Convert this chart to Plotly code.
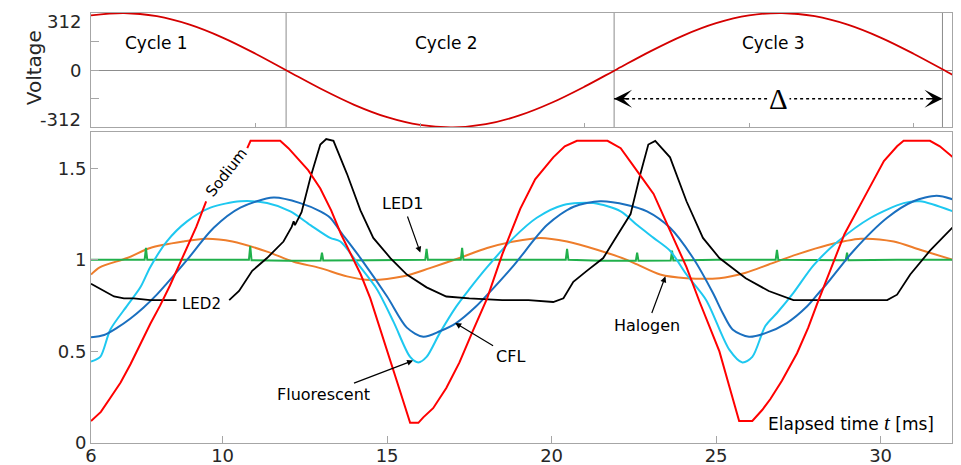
import plotly.graph_objects as go

# ---------------- Top panel: mains voltage ----------------
t_volt = [6, 7, 8, 9, 10, 11, 12, 13, 14, 15, 16, 17, 18, 19, 20, 21, 22, 23, 24,
          25, 26, 27, 28, 29, 30, 31, 32, 32.2]
volt = [298.8, 311.9, 294.6, 248.3, 177.8, 89.9, -6.9, -102.9, -188.9, -256.4, -298.8,
        -311.9, -294.6, -248.3, -177.8, -89.9, 6.9, 102.9, 188.9, 256.4, 298.8, 311.9,
        294.6, 248.3, 177.8, 89.9, -6.9, -26.4]
cycle_bounds = [11.93, 21.9, 31.88]
cycle_labels = ["Cycle 1", "Cycle 2", "Cycle 3"]
cycle_label_t = [8.0, 16.8, 26.75]
cycle_label_v = 150
volt_tick_vals = [-312, -156, 0, 156, 312]
volt_tick_text = ["-312", "", "0", "", "312"]
delta_start, delta_end, delta_v = 21.9, 31.88, -156

# ---------------- Bottom panel: normalised light output ----------------
t_sodium = [6.0, 6.3, 6.6, 6.9, 7.2, 7.5, 7.8, 8.1, 8.4, 8.8, 9.2, 9.5, None,
            10.75, 10.85, 11.75, 12.0, 12.3, 12.6, 12.97, 13.3, 13.6, 13.9, 14.2, 14.49,
            14.8, 15.1, 15.4, 15.7, 15.95, 16.1, 16.4, 16.8, 17.2, 17.6, 18.04, 18.5,
            19.05, 19.5, 20.05, 20.4, 20.77, 21.7, 22.1, 22.7, 23.1, 23.6, 24.1, 24.5,
            24.8, 25.1, 25.4, 25.7, 26.1, 26.4, 26.65, 27.0, 27.46, 27.8, 28.07, 28.5,
            28.9, 29.5, 30.1, 30.5, 30.7, 31.5, 31.8, 32.2]
v_sodium = [0.12, 0.17, 0.25, 0.33, 0.43, 0.54, 0.65, 0.75, 0.86, 1.02, 1.18, 1.32, None,
            1.61, 1.65, 1.65, 1.61, 1.55, 1.49, 1.39, 1.27, 1.14, 1.03, 0.92, 0.79,
            0.62, 0.45, 0.28, 0.11, 0.11, 0.14, 0.19, 0.30, 0.44, 0.61, 0.79, 1.03,
            1.28, 1.44, 1.56, 1.62, 1.65, 1.65, 1.61, 1.46, 1.36, 1.16, 0.96, 0.77,
            0.63, 0.50, 0.31, 0.12, 0.12, 0.18, 0.24, 0.34, 0.49, 0.63, 0.76, 0.96,
            1.14, 1.34, 1.54, 1.62, 1.65, 1.65, 1.62, 1.56]

t_led2 = [6.0, 6.3, 6.7, 7.0, 7.3, 7.8, 8.6, None, 10.2, 10.5, 10.9, 11.35, 11.85, 12.1,
          12.16, 12.2, 12.4, 12.67, 12.97, 13.15, 13.37, 13.78, 14.19, 14.58, 15.1, 15.6,
          16.2, 16.8, 17.5, 18.5, 19.3, 20.05, 20.36, 20.66, 21.07, 21.57, 21.88, 22.18,
          22.4, 22.7, 22.94, 23.15, 23.6, 24.1, 24.6, 25.1, 25.9, 26.6, 27.35, 28.7,
          30.2, 30.5, 30.9, 31.5, 32.2]
v_led2 = [0.87, 0.84, 0.80, 0.79, 0.79, 0.78, 0.78, None, 0.78, 0.83, 0.94, 1.01, 1.10, 1.18,
          1.21, 1.19, 1.26, 1.45, 1.63, 1.66, 1.65, 1.47, 1.27, 1.12, 1.01, 0.92,
          0.85, 0.80, 0.79, 0.78, 0.78, 0.77, 0.79, 0.88, 0.94, 1.01, 1.10, 1.19,
          1.25, 1.47, 1.63, 1.65, 1.56, 1.32, 1.12, 1.01, 0.90, 0.83, 0.78, 0.78,
          0.78, 0.81, 0.92, 1.05, 1.18]

t_fluor = [6.0, 6.28, 6.59, 7.1, 7.5, 7.8, 8.3, 8.92, 9.63, 10.54, 11.35, 12.06, 12.67,
           13.27, 13.58, 14.19, 14.69, 15.2, 15.7, 15.95, 16.2, 16.6, 17.1, 17.5, 18.04,
           18.84, 19.55, 20.36, 21.27, 22.1, 22.6, 23.1, 23.6, 24.1, 24.7, 25.4, 25.8,
           26.1, 26.5, 26.85, 27.35, 27.96, 28.7, 29.7, 30.7, 31.2, 32.2]
v_fluor = [0.445, 0.47, 0.62, 0.75, 0.85, 0.96, 1.10, 1.21, 1.285, 1.32, 1.31, 1.265, 1.19,
           1.12, 1.10, 0.96, 0.84, 0.66, 0.47, 0.44, 0.47, 0.60, 0.745, 0.84, 0.96,
           1.12, 1.23, 1.30, 1.31, 1.265, 1.19, 1.12, 1.05, 0.92, 0.78, 0.51, 0.44,
           0.47, 0.64, 0.71, 0.82, 0.97, 1.10, 1.23, 1.31, 1.32, 1.265]

t_cfl = [6.0, 6.4, 6.8, 7.2, 7.6, 8.0, 8.3, 8.92, 9.73, 10.54, 11.55, 12.36, 12.97, 13.27,
         13.58, 14.19, 15.0, 15.6, 16.1, 16.6, 17.1, 17.7, 18.1, 18.85, 19.86, 20.67,
         21.48, 22.29, 22.9, 23.6, 24.3, 24.9, 25.2, 25.5, 26.0, 26.5, 27.15, 27.76,
         28.17, 28.37, 29.18, 30.2, 31.0, 31.7, 32.2]
v_cfl = [0.577, 0.59, 0.63, 0.68, 0.74, 0.81, 0.87, 1.00, 1.175, 1.285, 1.34, 1.31, 1.265, 1.23,
         1.155, 1.01, 0.80, 0.63, 0.58, 0.61, 0.655, 0.745, 0.82, 0.97, 1.19, 1.29,
         1.32, 1.30, 1.265, 1.175, 1.01, 0.82, 0.71, 0.62, 0.58, 0.60, 0.655, 0.745,
         0.83, 0.87, 1.05, 1.23, 1.32, 1.35, 1.33]

t_halogen = [6.0, 6.28, 7.1, 7.8, 8.8, 9.5, 10.3, 11.35, 12.16, 12.97, 13.78, 14.49, 15.5,
             16.3, 17.2, 18.04, 18.85, 19.66, 20.47, 21.38, 22.29, 22.6, 23.3, 24.1, 25.1,
             25.9, 26.6, 27.46, 28.37, 29.4, 30.4, 31.2, 32.2]
v_halogen = [0.92, 0.96, 1.01, 1.065, 1.10, 1.115, 1.10, 1.045, 0.99, 0.955, 0.91, 0.89, 0.91,
             0.955, 1.01, 1.065, 1.10, 1.12, 1.10, 1.055, 1.00, 0.975, 0.92, 0.90, 0.90,
             0.93, 0.975, 1.03, 1.08, 1.115, 1.10, 1.055, 1.00]

t_led1 = [6.0, 7.63, 7.67, 7.71, 9.0, 10.8, 10.84, 10.88, 12.0, 12.98, 13.02, 13.06, 14.5,
          16.16, 16.2, 16.24, 17.24, 17.28, 17.32, 19.0, 20.43, 20.47, 20.51, 21.5, 22.56,
          22.6, 22.64, 23.62, 23.66, 23.7, 25.0, 26.81, 26.85, 26.89, 28.0, 28.94, 28.98,
          29.02, 30.5, 32.2]
v_led1 = [1.0, 1.0, 1.065, 1.0, 1.0, 1.0, 1.075, 0.998, 0.995, 0.996, 1.04, 0.996, 0.998,
          1.0, 1.06, 1.0, 1.0, 1.065, 1.0, 1.0, 1.0, 1.06, 1.0, 0.995, 0.995,
          1.04, 0.995, 0.997, 1.05, 0.997, 1.0, 1.0, 1.055, 1.0, 0.998, 0.998, 1.04,
          0.998, 1.0, 1.0]

x_ticks = [6, 10, 15, 20, 25, 30]
y_ticks = [0, 0.5, 1, 1.5]
y_tick_text = ["0", "0.5", "1", "1.5"]
x_range = [6, 32.17]

FONT = "DejaVu Sans"
TXT = "#262626"
AX = "#a6a6a6"

fig = go.Figure()

# voltage trace
fig.add_trace(go.Scatter(x=t_volt, y=volt, mode="lines", xaxis="x", yaxis="y",
                         line=dict(color="#d40000", width=1.8, shape="spline"),
                         showlegend=False, hoverinfo="skip"))

series = [
    (t_halogen, v_halogen, "#ee7d2b", "spline", 2),
    (t_led1, v_led1, "#20b04b", "linear", 2),
    (t_fluor, v_fluor, "#1ec8f0", "spline", 2),
    (t_cfl, v_cfl, "#1a6fbf", "spline", 2),
    (t_led2, v_led2, "#000000", "linear", 1.8),
    (t_sodium, v_sodium, "#ff0000", "linear", 2),
]
for tx, vy, col, shp, w in series:
    fig.add_trace(go.Scatter(x=tx, y=vy, mode="lines", xaxis="x2", yaxis="y2",
                             line=dict(color=col, width=w, shape=shp, smoothing=0.8),
                             connectgaps=False, showlegend=False, hoverinfo="skip"))

shapes = []
for b in cycle_bounds:
    shapes.append(dict(type="line", xref="x", yref="y domain", x0=b, x1=b, y0=0, y1=1,
                       line=dict(color="#8c8c8c", width=1), layer="below"))
shapes.append(dict(type="line", xref="x", yref="y", x0=delta_start, x1=delta_end,
                   y0=delta_v, y1=delta_v, line=dict(color="black", width=1.5, dash="dot")))

annotations = []
for lab, tx in zip(cycle_labels, cycle_label_t):
    annotations.append(dict(x=tx, y=cycle_label_v, xref="x", yref="y", text=lab,
                            showarrow=False, font=dict(family=FONT, size=17, color="black")))
# delta arrowheads
annotations.append(dict(x=delta_start, y=delta_v, xref="x", yref="y", text="",
                        showarrow=True, ax=16, ay=0, arrowhead=3, arrowsize=2,
                        arrowwidth=1.5, arrowcolor="black", standoff=0))
annotations.append(dict(x=delta_end, y=delta_v, xref="x", yref="y", text="",
                        showarrow=True, ax=-16, ay=0, arrowhead=3, arrowsize=2,
                        arrowwidth=1.5, arrowcolor="black", standoff=0))
annotations.append(dict(x=(delta_start + delta_end) / 2, y=delta_v, xref="x", yref="y",
                        text="Δ", showarrow=False, bgcolor="white",
                        font=dict(family="Liberation Serif", size=29, color="black")))
# top y tick labels (placed next to their ticks)
for val, txt, ys in zip([312, 0, -312], ["312", "0", "-312"], [-8, 0, 8]):
    annotations.append(dict(x=0, y=val, xref="paper", yref="y", text=txt, xanchor="right",
                            xshift=-8, yshift=ys, showarrow=False,
                            font=dict(family=FONT, size=18, color=TXT)))
annotations.append(dict(x=-0.066, y=0.872, xref="paper", yref="paper", text="Voltage",
                        textangle=-90, showarrow=False, xanchor="center", yanchor="middle",
                        font=dict(family=FONT, size=20, color=TXT)))

lbl_font = dict(family=FONT, size=16, color="black")
annotations.append(dict(x=10.13, y=1.48, xref="x2", yref="y2", text="Sodium", textangle=-52,
                        showarrow=False, font=dict(family=FONT, size=15, color="black")))
annotations.append(dict(x=9.37, y=0.76, xref="x2", yref="y2", text="LED2",
                        showarrow=False, font=dict(family=FONT, size=15, color="black")))
arrow_labels = [
    ("LED1", 15.48, 1.307, 16.01, 1.04),
    ("Fluorescent", 13.06, 0.263, 15.79, 0.45),
    ("CFL", 18.76, 0.473, 17.07, 0.655),
    ("Halogen", 22.9, 0.64, 23.46, 0.91),
]
for txt, tx, ty, hx, hy in arrow_labels:
    annotations.append(dict(x=hx, y=hy, ax=tx, ay=ty, xref="x2", yref="y2", axref="x2",
                            ayref="y2", text=txt, showarrow=True, arrowhead=2, arrowsize=1,
                            arrowwidth=1.2, arrowcolor="black", standoff=0, startstandoff=2,
                            font=lbl_font))
annotations.append(dict(x=29.1, y=0.11, xref="x2", yref="y2",
                        text="Elapsed time <span style='font-family:Liberation Serif;font-size:21px'><i>t</i></span> [ms]",
                        showarrow=False, font=dict(family=FONT, size=17, color="black")))

axis_common = dict(showline=True, mirror=True, linecolor=AX, linewidth=1, showgrid=False,
                   ticks="inside", tickcolor=AX, zeroline=False)

# page body has an 8px default margin, so the figure is sized to fit the 961x465 window
fig.update_layout(
    width=953, height=457,
    margin=dict(l=83, r=9, t=5, b=22, autoexpand=False),
    paper_bgcolor="white", plot_bgcolor="white",
    xaxis=dict(domain=[0, 1], anchor="y", range=x_range, tickvals=[11, 16, 21, 26, 31],
               ticklen=4, showticklabels=False, **axis_common),
    yaxis=dict(domain=[0.734, 1], anchor="x", range=[-312, 312], tickvals=volt_tick_vals,
               ticktext=["", "", "", "", ""], ticklen=8,
               **{k: v for k, v in axis_common.items() if k != "zeroline"},
               zeroline=True, zerolinecolor="#8c8c8c", zerolinewidth=1),
    xaxis2=dict(domain=[0, 1], anchor="y2", range=x_range, tickvals=x_ticks, ticklen=7,
                ticklabelstandoff=-4,
                tickfont=dict(family=FONT, size=18, color=TXT), **axis_common),
    yaxis2=dict(domain=[0, 0.724], anchor="x2", range=[0, 1.70], tickvals=y_ticks,
                ticktext=y_tick_text, ticklen=7,
                tickfont=dict(family=FONT, size=18, color=TXT), **axis_common),
    shapes=shapes, annotations=annotations,
)

fig.write_html("out.html")
